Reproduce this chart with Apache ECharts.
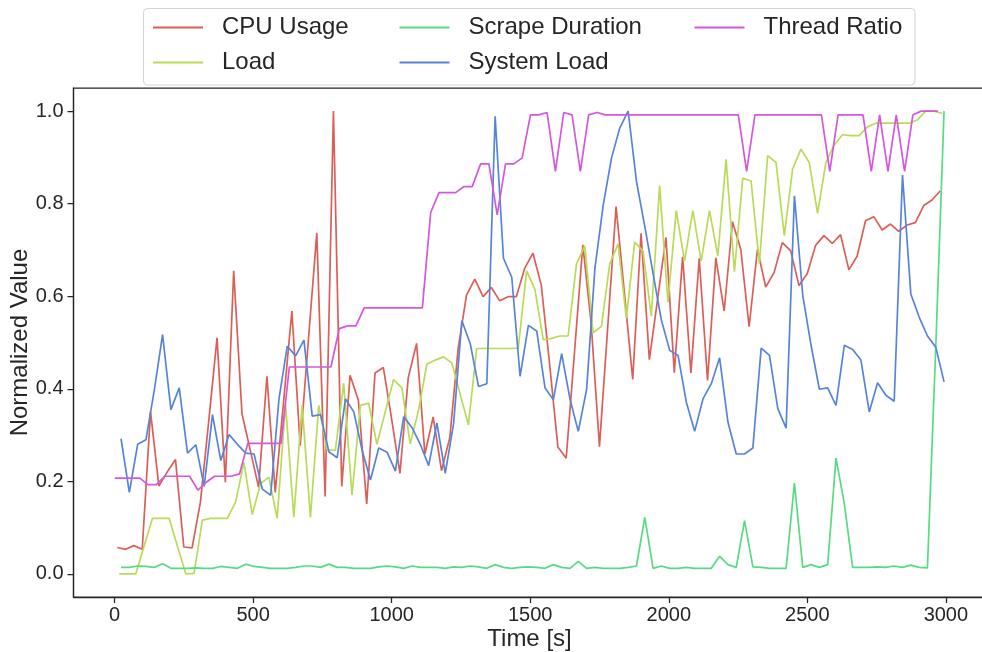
<!DOCTYPE html>
<html>
<head>
<meta charset="utf-8">
<script src="https://cdn.jsdelivr.net/npm/echarts@6/dist/echarts.min.js"></script>
<style>
html,body{margin:0;padding:0;background:#fff;}
#chart{width:982px;height:652px;}
</style>
</head>
<body>
<div id="chart"></div>
<script>
// ---- data ----
const seriesNames = ['CPU Usage', 'Load', 'Scrape Duration', 'System Load', 'Thread Ratio'];
const sampleInterval = 30; // seconds between samples
const startTimes = { 'CPU Usage': 10, 'Load': 17, 'Scrape Duration': 23.5, 'System Load': 23.5, 'Thread Ratio': 1 };
const xTicks = [0, 500, 1000, 1500, 2000, 2500, 3000];
const yTicks = [0, 0.2, 0.4, 0.6, 0.8, 1.0];

const cpuUsage = [0.057,0.053,0.061,0.053,0.35,0.19,0.22,0.247,0.058,0.056,
0.155,0.33,0.51,0.198,0.655,0.346,0.267,0.187,0.427,0.176,
0.371,0.568,0.277,0.508,0.737,0.167,1.0,0.189,0.429,0.375,
0.151,0.434,0.446,0.335,0.217,0.424,0.498,0.259,0.339,0.223,
0.295,0.487,0.602,0.637,0.599,0.619,0.590,0.599,0.599,0.660,
0.693,0.624,0.454,0.274,0.25,0.48,0.711,0.541,0.275,0.535,
0.794,0.607,0.42,0.736,0.463,0.595,0.727,0.435,0.685,0.434,
0.682,0.418,0.683,0.568,0.761,0.701,0.534,0.701,0.620,0.651,
0.716,0.698,0.623,0.649,0.710,0.731,0.714,0.733,0.657,0.687,
0.763,0.772,0.743,0.756,0.740,0.754,0.759,0.796,0.808,0.828];

const load = [0,0,0,0.06,0.12,0.12,0.12,0.06,0,0.001,
0.116,0.12,0.12,0.12,0.155,0.241,0.128,0.195,0.209,0.12,
0.368,0.122,0.364,0.122,0.364,0.268,0.267,0.412,0.170,0.364,
0.369,0.280,0.35,0.42,0.402,0.281,0.353,0.453,0.462,0.469,
0.456,0.389,0.322,0.487,0.487,0.487,0.487,0.487,0.488,0.655,
0.615,0.506,0.509,0.514,0.514,0.67,0.709,0.521,0.535,0.67,
0.713,0.552,0.717,0.698,0.557,0.839,0.587,0.785,0.676,0.785,
0.676,0.785,0.687,0.896,0.653,0.855,0.849,0.671,0.904,0.889,
0.731,0.875,0.918,0.889,0.779,0.889,0.927,0.949,0.947,0.947,
0.966,0.974,0.974,0.974,0.974,0.974,0.981,1.0,1.0,0.995];

const scrapeDuration = [0.014,0.014,0.017,0.016,0.014,0.022,0.012,0.012,0.012,0.013,
0.012,0.012,0.016,0.014,0.012,0.021,0.016,0.014,0.012,0.012,
0.012,0.014,0.017,0.017,0.014,0.021,0.014,0.014,0.012,0.012,
0.012,0.015,0.017,0.015,0.012,0.017,0.014,0.014,0.014,0.012,
0.015,0.014,0.017,0.015,0.012,0.02,0.014,0.012,0.014,0.015,
0.014,0.012,0.02,0.014,0.012,0.027,0.012,0.014,0.012,0.012,
0.012,0.014,0.017,0.122,0.012,0.017,0.012,0.012,0.014,0.012,
0.012,0.012,0.038,0.02,0.014,0.115,0.015,0.014,0.012,0.012,
0.012,0.196,0.014,0.02,0.014,0.02,0.25,0.152,0.014,0.014,
0.014,0.015,0.014,0.017,0.014,0.019,0.014,0.013,0.49,1.0];

const systemLoad = [0.292,0.176,0.280,0.290,0.397,0.517,0.355,0.402,0.261,0.279,
0.189,0.344,0.245,0.301,0.280,0.261,0.259,0.183,0.170,0.378,
0.492,0.471,0.505,0.341,0.344,0.264,0.251,0.378,0.350,0.267,
0.203,0.272,0.263,0.222,0.340,0.316,0.280,0.234,0.326,0.217,
0.324,0.547,0.498,0.405,0.411,0.989,0.682,0.641,0.427,0.537,
0.525,0.402,0.376,0.476,0.378,0.308,0.398,0.660,0.797,0.899,
0.964,1.0,0.848,0.751,0.649,0.548,0.483,0.472,0.371,0.308,
0.378,0.411,0.467,0.328,0.259,0.259,0.272,0.488,0.472,0.357,
0.315,0.817,0.602,0.494,0.399,0.402,0.364,0.494,0.485,0.462,
0.350,0.413,0.386,0.373,0.862,0.605,0.555,0.514,0.490,0.415];

const threadRatio = [0.207,0.207,0.207,0.207,0.193,0.193,0.211,0.211,0.211,0.211,
0.181,0.198,0.211,0.211,0.211,0.216,0.282,0.282,0.282,0.282,
0.282,0.447,0.447,0.447,0.447,0.447,0.447,0.530,0.536,0.536,
0.575,0.575,0.575,0.575,0.575,0.575,0.575,0.575,0.781,0.824,
0.824,0.824,0.837,0.837,0.886,0.886,0.776,0.886,0.886,0.899,
0.992,0.992,0.997,0.870,0.997,0.992,0.870,0.992,0.997,0.992,
0.992,0.992,0.992,0.992,0.992,0.992,0.992,0.992,0.992,0.992,
0.992,0.992,0.992,0.992,0.992,0.992,0.870,0.992,0.992,0.992,
0.992,0.992,0.992,0.992,0.992,0.992,0.870,0.992,0.992,0.992,
0.992,0.870,0.992,0.870,0.992,0.870,0.992,1.0,1.0,1.0];

const seriesValues = {
  'CPU Usage': cpuUsage,
  'Load': load,
  'Scrape Duration': scrapeDuration,
  'System Load': systemLoad,
  'Thread Ratio': threadRatio
};
const colors = {
  'CPU Usage': '#db5f57',
  'Load': '#b9db57',
  'Scrape Duration': '#57db80',
  'System Load': '#5784db',
  'Thread Ratio': '#d557db'
};

// ---- chart ----
const FONT = '"Liberation Sans", Arial, sans-serif';
const INK = '#262626';
const chart = echarts.init(document.getElementById('chart'), null, { renderer: 'canvas' });

const series = seriesNames.map(name => ({
  name: name,
  type: 'line',
  symbol: 'none',
  showSymbol: false,
  animation: false,
  lineStyle: { width: 1.7, color: colors[name] },
  itemStyle: { color: colors[name] },
  data: seriesValues[name].map((v, i) => [startTimes[name] + i * sampleInterval, v])
}));

// legend placement: [left of line icon, vertical center]
const legendPos = {
  'CPU Usage': [153, 27.5],
  'Load': [153, 62.5],
  'Scrape Duration': [399.5, 27.5],
  'System Load': [399.5, 62.5],
  'Thread Ratio': [694.5, 27.5]
};
const legends = seriesNames.map(name => ({
  show: true,
  z: 10,
  data: [name],
  left: legendPos[name][0],
  top: legendPos[name][1] - 12,
  orient: 'horizontal',
  padding: 0,
  icon: 'rect',
  itemWidth: 50,
  itemHeight: 2,
  selectedMode: false,
  textStyle: { fontFamily: FONT, fontSize: 24, color: INK, padding: [0, 0, 0, 14] }
}));

const option = {
  animation: false,
  backgroundColor: '#ffffff',
  color: seriesNames.map(n => colors[n]),
  graphic: [{
    type: 'rect',
    silent: true,
    shape: { x: 143.5, y: 8.5, width: 771.5, height: 76.5, r: 4 },
    style: { fill: 'none', stroke: '#d4d4d4', lineWidth: 1 }
  }],
  legend: legends,
  grid: {
    left: 73.5, top: 88, width: 912, height: 509,
    show: true, borderColor: INK, borderWidth: 1.25, backgroundColor: 'transparent',
    containLabel: false,
    outerBoundsMode: 'none'
  },
  xAxis: {
    type: 'value',
    min: -148, max: 3143,
    name: 'Time [s]',
    nameLocation: 'middle',
    nameGap: 30,
    nameMoveOverlap: false,
    nameTextStyle: { fontFamily: FONT, fontSize: 24, color: INK },
    axisLine: { show: true, onZero: false, lineStyle: { color: INK, width: 1.25 } },
    axisTick: { show: true, customValues: xTicks, length: 6, lineStyle: { color: INK, width: 1.25 } },
    axisLabel: { customValues: xTicks, margin: 8, fontFamily: FONT, fontSize: 20, color: INK,
      formatter: v => String(v) },
    splitLine: { show: false }
  },
  yAxis: {
    type: 'value',
    min: -0.05, max: 1.05,
    name: 'Normalized Value',
    nameLocation: 'middle',
    nameGap: 41,
    nameMoveOverlap: false,
    nameRotate: 90,
    nameTextStyle: { fontFamily: FONT, fontSize: 24, color: INK },
    axisLine: { show: true, onZero: false, lineStyle: { color: INK, width: 1.25 } },
    axisTick: { show: true, customValues: yTicks, length: 6, lineStyle: { color: INK, width: 1.25 } },
    axisLabel: { customValues: yTicks, margin: 10, fontFamily: FONT, fontSize: 20, color: INK,
      formatter: v => v.toFixed(1) },
    splitLine: { show: false }
  },
  series: series
};
chart.setOption(option);
</script>
</body>
</html>
